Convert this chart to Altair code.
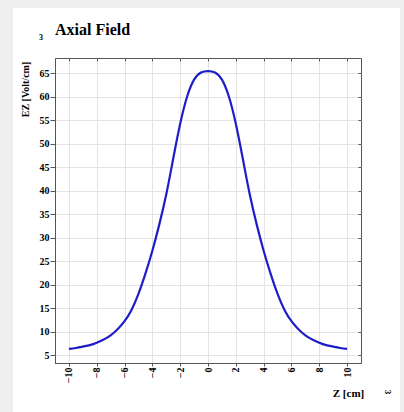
import altair as alt
import pandas as pd

# data
z_cm = [-10, -9.5, -9, -8.5, -8, -7.5, -7, -6.5, -6, -5.5, -5, -4.5, -4, -3.5, -3, -2.5, -2, -1.5, -1, -0.5,
        0, 0.5, 1, 1.5, 2, 2.5, 3, 3.5, 4, 4.5, 5, 5.5, 6, 6.5, 7, 7.5, 8, 8.5, 9, 9.5, 10]
ez_volt = [6.3, 6.5, 6.8, 7.1, 7.6, 8.3, 9.2, 10.5, 12.2, 14.6, 18.0, 22.3, 27.2, 32.8, 39.2, 46.8, 54.2, 60.0, 63.6, 65.1,
           65.4, 65.1, 63.6, 60.0, 54.2, 46.8, 39.2, 32.8, 27.2, 22.3, 18.0, 14.6, 12.2, 10.5, 9.2, 8.3, 7.6, 7.1, 6.8, 6.5, 6.3]
x_ticks = [-10, -8, -6, -4, -2, 0, 2, 4, 6, 8, 10]
y_ticks = [5, 10, 15, 20, 25, 30, 35, 40, 45, 50, 55, 60, 65]
title_text = "Axial Field"

df = pd.DataFrame({"z": z_cm, "ez": ez_volt})

FONT = "Liberation Serif"
FRAME = "#555555"
GRID = "#e4e4e4"
W, H = 306, 305

xscale = alt.Scale(domain=[-11, 11], nice=False, zero=False)
yscale = alt.Scale(domain=[3.3, 68.2], nice=False, zero=False)

x_bottom = alt.Axis(
    orient="bottom", values=x_ticks, grid=True, gridColor=GRID, gridWidth=1,
    domainColor=FRAME, tickColor=FRAME, tickSize=3, labelAngle=270, labelPadding=1,
    labelFont=FONT, labelFontWeight="bold", labelFontSize=10, labelColor="black",
    title="Z [cm]", titleFont=FONT, titleFontWeight="bold", titleFontSize=11, titleColor="black",
    titleX=293, titleY=33, titleAlign="center", titleBaseline="alphabetic", titleAngle=0,
)
y_left = alt.Axis(
    orient="left", values=y_ticks, grid=True, gridColor=GRID, gridWidth=1,
    domainColor=FRAME, tickColor=FRAME, tickSize=5, labelPadding=1,
    labelFont=FONT, labelFontWeight="bold", labelFontSize=10, labelColor="black",
    title="EZ [Volt/cm]", titleFont=FONT, titleFontWeight="bold", titleFontSize=10, titleColor="black",
    titleX=-30, titleY=31, titleAngle=270, titleAlign="center", titleBaseline="middle",
)
x_top = alt.Axis(orient="top", values=x_ticks, grid=False, labels=False, title=None,
                 domain=False, tickColor=FRAME, tickSize=3, offset=-3)
y_right = alt.Axis(orient="right", values=y_ticks, grid=False, labels=False, title=None,
                   domain=False, tickColor=FRAME, tickSize=3, offset=-3)

curve = alt.Chart(df).mark_line(color="#1e1ec8", strokeWidth=2.2, interpolate="natural").encode(
    x=alt.X("z:Q", scale=xscale, axis=x_bottom),
    y=alt.Y("ez:Q", scale=yscale, axis=y_left),
)
mirror = alt.Chart(df).mark_line(opacity=0).encode(
    x=alt.X("z:Q", scale=xscale, axis=x_top),
    y=alt.Y("ez:Q", scale=yscale, axis=y_right),
)

one = alt.Data(values=[{}])
GRAY = "#eeeeee"
left_strip = alt.Chart(one).mark_rect(color=GRAY).encode(
    x=alt.value(-55), x2=alt.value(-42), y=alt.value(-58), y2=alt.value(H + 49))
top_strip = alt.Chart(one).mark_rect(color=GRAY).encode(
    x=alt.value(-55), x2=alt.value(W + 43), y=alt.value(-58), y2=alt.value(-50))
right_strip = alt.Chart(one).mark_rect(color=GRAY).encode(
    x=alt.value(W + 39), x2=alt.value(W + 43), y=alt.value(-58), y2=alt.value(H + 49))

title_mark = alt.Chart(one).mark_text(text=title_text, font=FONT, fontWeight="bold", fontSize=16,
                                      color="black", align="left", baseline="alphabetic").encode(
    x=alt.value(0), y=alt.value(-23))
mark3_top = alt.Chart(one).mark_text(text="3", font=FONT, fontWeight="bold", fontSize=8,
                                     color="black", align="center", baseline="alphabetic").encode(
    x=alt.value(-14), y=alt.value(-18))
mark3_bottom = alt.Chart(one).mark_text(text="3", font=FONT, fontWeight="bold", fontSize=9, angle=90,
                                        color="black", align="center", baseline="middle").encode(
    x=alt.value(333), y=alt.value(334))

chart = alt.layer(
    left_strip, top_strip, right_strip, curve, mirror, title_mark, mark3_top, mark3_bottom
).resolve_axis(x="independent", y="independent").properties(
    width=W, height=H,
    autosize=alt.AutoSizeParams(type="none"),
    padding={"left": 55, "top": 58, "right": 43, "bottom": 49},
    background="white",
).configure_view(stroke=FRAME, strokeWidth=1)

chart.save("out.html", embed_options={"renderer": "svg", "actions": False})
